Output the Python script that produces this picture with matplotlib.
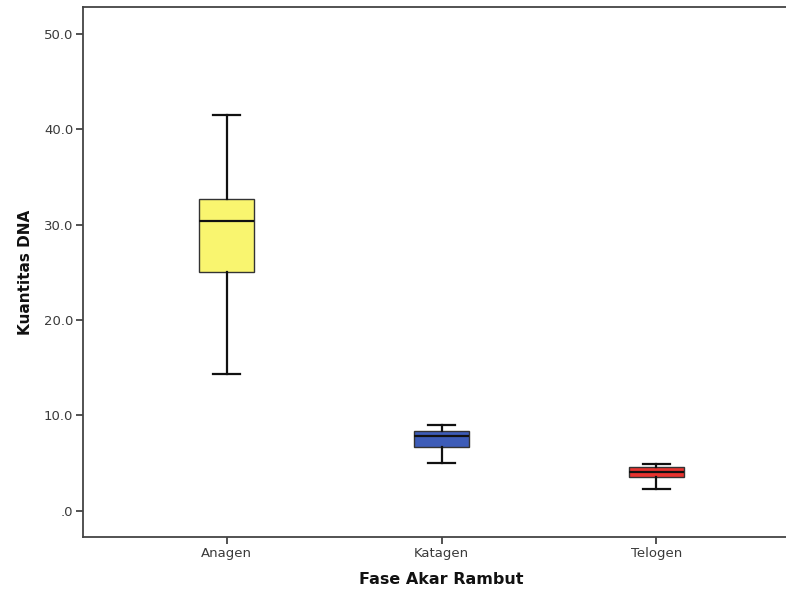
import matplotlib
matplotlib.use("Agg")
import matplotlib.pyplot as plt
from matplotlib.ticker import FuncFormatter

categories = ["Anagen", "Katagen", "Telogen"]
whisker_low = [14.3, 5.0, 2.3]
q1 = [25.0, 6.7, 3.6]
median = [30.4, 7.8, 4.1]
q3 = [32.7, 8.4, 4.6]
whisker_high = [41.5, 9.05, 4.9]
colors = ["#f9f56f", "#3d5cb8", "#e8332f"]
yticks = [0, 10, 20, 30, 40, 50]

W, H = 786, 591
fig = plt.figure(figsize=(W / 100, H / 100), dpi=100)
left, right, top, bottom = 83, 800, 7, 537
ax = fig.add_axes([left / W, 1 - bottom / H, (right - left) / W, (bottom - top) / H])

stats = []
for i, c in enumerate(categories):
    stats.append(dict(label=c, whislo=whisker_low[i], q1=q1[i], med=median[i],
                      q3=q3[i], whishi=whisker_high[i], fliers=[]))

bp = ax.bxp(stats, positions=[1, 2, 3], widths=0.256, capwidths=0.126,
            patch_artist=True, showfliers=False,
            boxprops=dict(edgecolor="#333333", linewidth=1.0),
            medianprops=dict(color="#111111", linewidth=1.6),
            whiskerprops=dict(color="#111111", linewidth=1.6),
            capprops=dict(color="#111111", linewidth=1.6))
for patch, col in zip(bp["boxes"], colors):
    patch.set_facecolor(col)

ax.set_xlim(0.33, 3.67)
ax.set_ylim(-2.73, 52.8)
ax.set_yticks(yticks)
ax.yaxis.set_major_formatter(FuncFormatter(lambda v, p: ("%.1f" % v).lstrip("0") if v == 0 else "%.1f" % v))

for s in ["left", "bottom", "top"]:
    ax.spines[s].set_color("#444444")
    ax.spines[s].set_linewidth(1.3)
ax.spines["right"].set_visible(False)

ax.tick_params(axis="both", direction="out", length=5, width=1.3, color="#444444",
               labelcolor="#3a3a3a", labelsize=9.5, pad=2)

ax.set_ylabel("Kuantitas DNA", fontsize=11, fontweight="bold", color="#111111", labelpad=8)
ax.set_xlabel("Fase Akar Rambut", fontsize=11.5, fontweight="bold", color="#111111", labelpad=9)

fig.savefig("out.png", dpi=100)
